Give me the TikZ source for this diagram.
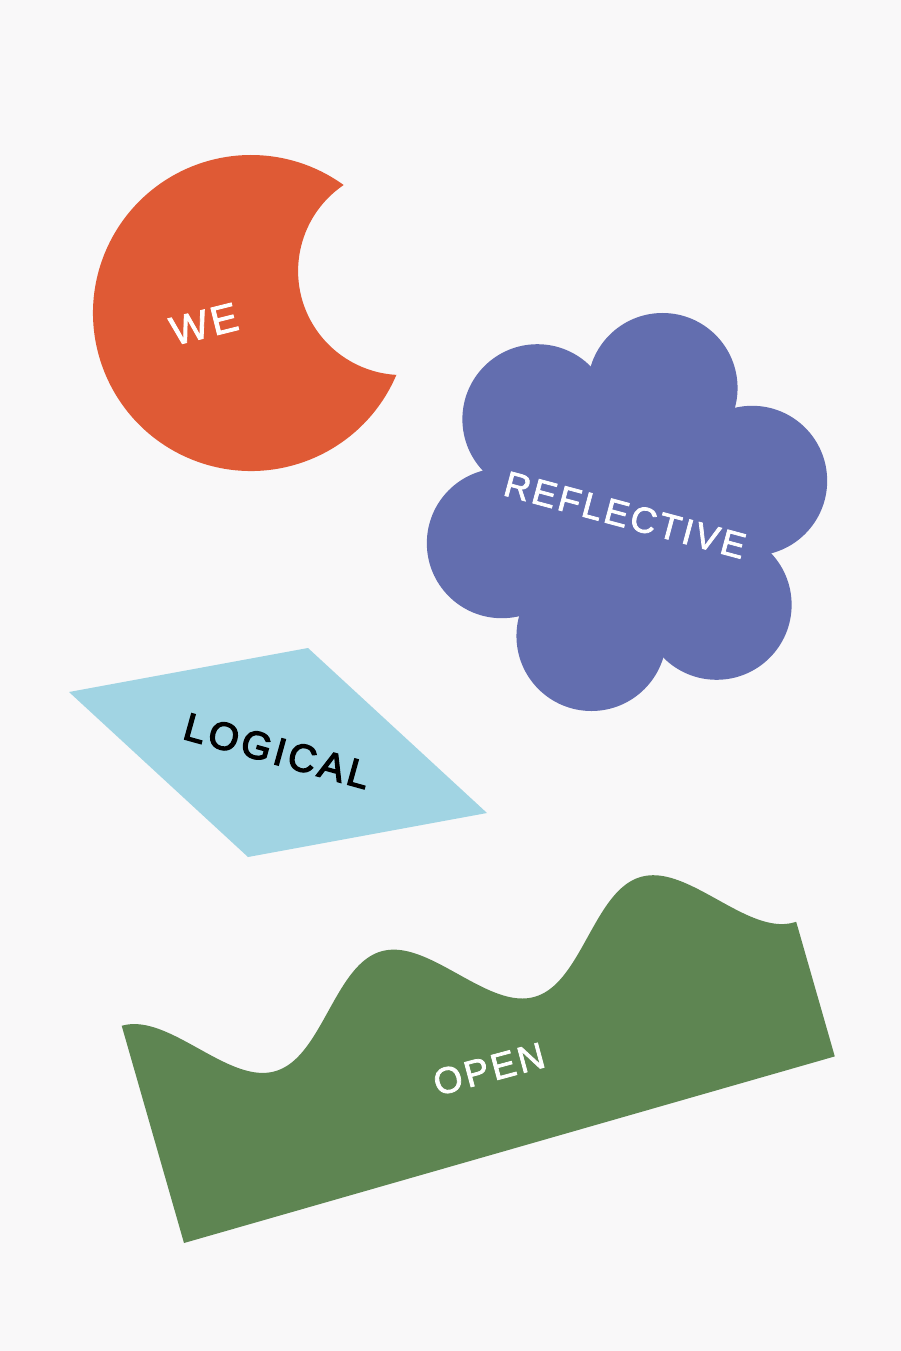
\documentclass[tikz,border=0pt]{standalone}
\usepackage{fontspec}
\newfontfamily\wordfont[LetterSpace=8, FakeBold=2]{Liberation Sans}
\newfontfamily\logicfont[LetterSpace=10, FakeBold=3.5]{Liberation Sans}

\definecolor{paper}{HTML}{F9F8F9}
\definecolor{tomato}{HTML}{DF5A35}
\definecolor{iris}{HTML}{636EAF}
\definecolor{sky}{HTML}{A1D4E3}
\definecolor{moss}{HTML}{5E8552}

\tikzset{
  word/.style={font=\wordfont\fontsize{#1}{#1}\selectfont, inner sep=0pt},
  word/.default=21
}

\begin{document}
\begin{tikzpicture}[x=0.02cm, y=-0.02cm]
      \fill[paper] (0,0) rectangle (901,1351);
      % moon: big disc with a round bite
      \fill[tomato] (251,313) ++(23:158)
        arc[start angle=23, end angle=305.9, radius=158]
        arc[start angle=235.8, end angle=93.1, radius=104] -- cycle;
      % flower
      \fill[iris] (627,512) circle (100);
      \foreach \a in {-74,-14,...,226}
        \fill[iris] (627,512) ++(\a:129) circle (75);
      % rhombus
      \fill[sky] (69,692) -- (308,648) -- (487,813) -- (248,857) -- cycle;
      % wavy band
      \begin{scope}[shift={(184,1243)}, rotate=16]
        \fill[moss] (0,0) -- (0,-226)
          -- plot[domain=0:677, samples=120, smooth] (\x, {-183-43*cos(\x*4/3)})
          -- (677,0) -- cycle;
      \end{scope}
      % words
      \begin{scope}[every node/.style={text=white}]
        \node[word=23, rotate=14] (we) at (204,324) {WE};
        \node[word=20.5, rotate=-15] (reflective) at (625,515) {REFLECTIVE};
        \node[rotate=-15.5, text=black, inner sep=0pt, font=\logicfont\fontsize{22}{22}\selectfont] (logical) at (277,751) {LOGICAL};
        \node[word=21, rotate=15] (open) at (489,1069) {OPEN};
      \end{scope}
    \end{tikzpicture}
\end{document}
